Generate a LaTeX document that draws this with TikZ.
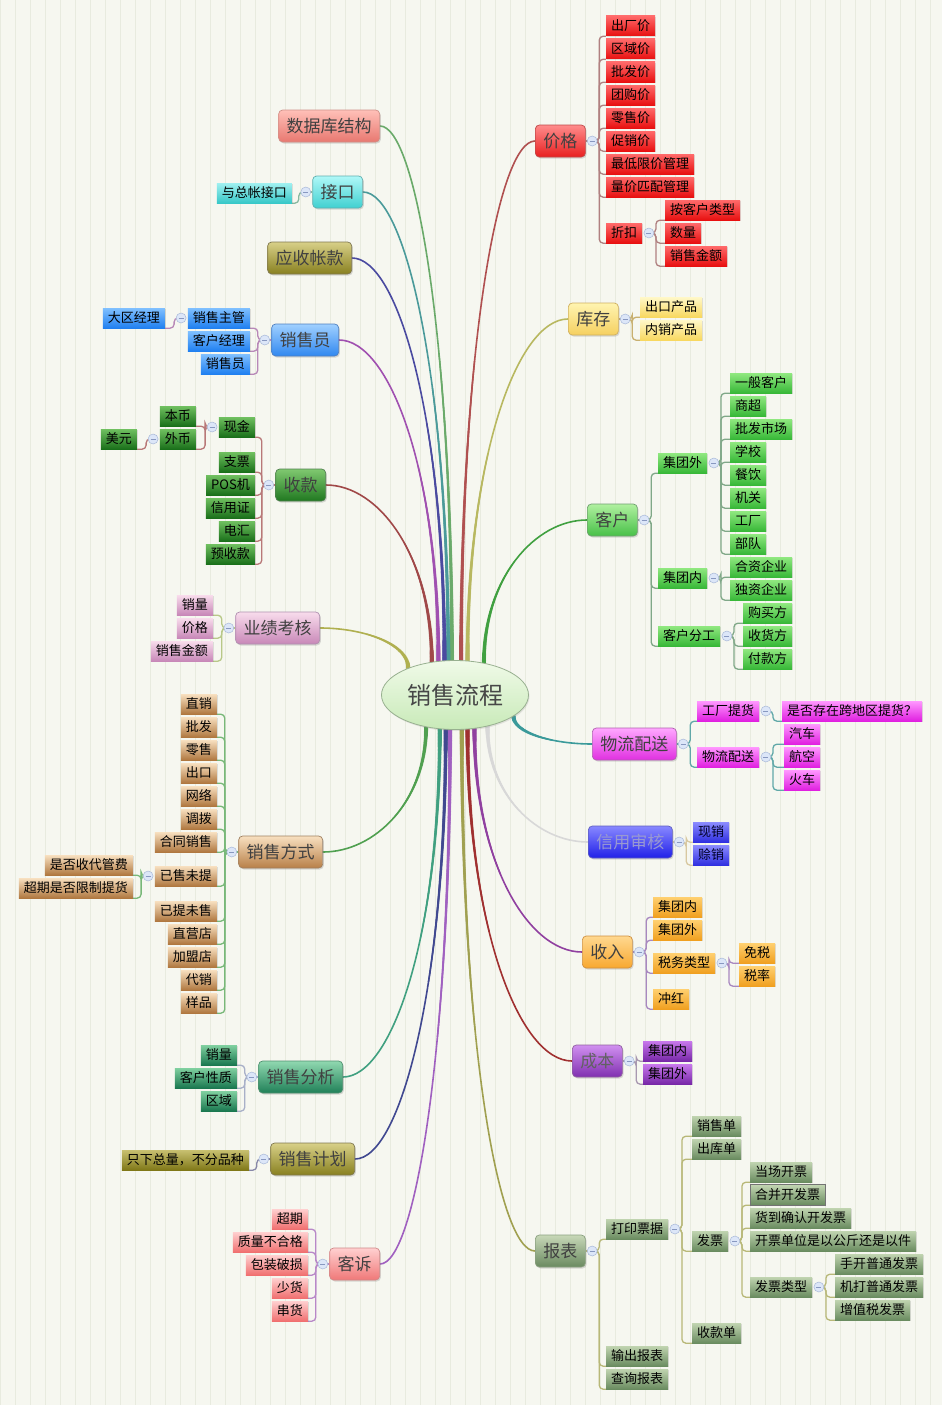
\documentclass[tikz,border=0pt]{standalone}
\usepackage{fontspec}
\setmainfont{Noto Sans CJK SC}
\usetikzlibrary{shapes.geometric,shadows,backgrounds,calc,decorations.markings}
\definecolor{bgc}{HTML}{F6F7F0}
\definecolor{grc}{HTML}{E8EBDF}
\definecolor{cenT}{HTML}{F0FAE8}
\definecolor{cenB}{HTML}{C8EAB8}
\definecolor{cenD}{HTML}{98B090}
\definecolor{collD}{HTML}{A8B8D8}
\definecolor{collF}{HTML}{DCE6F8}
\definecolor{collM}{HTML}{8898C0}
\tikzset{
  lf/.style={rectangle, inner xsep=5pt, inner ysep=0pt, minimum height=20pt, text height=11.2pt, text depth=1.8pt, font=\fontsize{13pt}{13pt}\selectfont, text=black, drop shadow={opacity=0.22, shadow xshift=1pt, shadow yshift=-1pt}},
  tp/.style={rectangle, rounded corners=4pt, line width=0.7pt, inner xsep=8pt, inner ysep=0pt, minimum height=32pt, text height=14.8pt, text depth=2.2pt, font=\fontsize{17pt}{17pt}\selectfont, text=black!75, drop shadow={opacity=0.28, shadow xshift=1.2pt, shadow yshift=-1.5pt}},
  cen/.style={ellipse, draw=cenD, line width=0.8pt, top color=cenT, bottom color=cenB, minimum width=147pt, minimum height=69pt, inner sep=0pt, font=\fontsize{24pt}{24pt}\selectfont, text=black!72, drop shadow={opacity=0.18, shadow xshift=1pt, shadow yshift=-1.5pt}},
  coll/.style={circle, draw=collD, fill=collF, minimum size=10pt, inner sep=0pt, line width=0.5pt, path picture={\draw[collM, line width=0.8pt] ([xshift=-2.5pt]path picture bounding box.center) -- ([xshift=2.5pt]path picture bounding box.center);}},
  conn/.style={line width=1.3pt, rounded corners=4pt},
  mbl/.style={line width=1.6pt, line cap=round},
}
\newcommand\mkscheme[6]{%
  \definecolor{#1TT}{HTML}{#2}\definecolor{#1TB}{HTML}{#3}\definecolor{#1TD}{HTML}{#4}%
  \definecolor{#1LT}{HTML}{#5}\definecolor{#1LB}{HTML}{#6}%
  \tikzset{t#1/.style={tp,top color=#1TT,bottom color=#1TB,draw=#1TD},
           l#1/.style={lf,top color=#1LT,bottom color=#1LB}}}
\mkscheme{Red}{FF8C8C}{E82020}{C04848}{FF6A6A}{E81010}
\mkscheme{Yel}{FFF4B0}{F5D060}{D0B060}{FFF8C8}{F8D860}
\mkscheme{Grn}{B0F0A0}{48C048}{70A070}{90E880}{38B838}
\mkscheme{Mag}{FFA8FF}{E030E0}{B060B0}{FF98FF}{E020E0}
\mkscheme{Blu}{8888FF}{2020E8}{6060C0}{8C8CFF}{3030E0}
\mkscheme{Org}{FFD890}{F8A830}{D09040}{FFD070}{F0A020}
\mkscheme{Pur}{D090F0}{8030B0}{9060A0}{C878EC}{7828A8}
\mkscheme{Gry}{C8D8B8}{6A8A60}{8AA080}{C0D4B0}{6A8C60}
\mkscheme{Sal}{FFC0B8}{E87870}{D09088}{FFC0B8}{E87870}
\mkscheme{Cyn}{B0F8F8}{40D0D0}{60B0B0}{A0F0F0}{38C8C8}
\mkscheme{Olv}{D8D088}{888020}{807850}{C8C070}{807818}
\mkscheme{Sky}{A0D0FF}{3088F0}{5080C0}{80C0FF}{2080F0}
\mkscheme{Dgr}{80C870}{207820}{508050}{70C060}{1A701A}
\mkscheme{Pnk}{F8DCEC}{C888B8}{B090B0}{F8DCEC}{C888B8}
\mkscheme{Tan}{F8E0C0}{B88048}{A08060}{F8E0C0}{B07840}
\mkscheme{Tea}{90D8B0}{208058}{509070}{80D0A0}{1A7850}
\mkscheme{Ros}{FFD0D0}{F07878}{D08888}{FFD0D0}{F07070}
% main branch colours
\definecolor{mSjk}{HTML}{6AAA6A}
\definecolor{mJk}{HTML}{4A9A9A}
\definecolor{mYs}{HTML}{4A4AA0}
\definecolor{mXsy}{HTML}{A050B0}
\definecolor{mSk}{HTML}{A04848}
\definecolor{mYj}{HTML}{B0B050}
\definecolor{mXf}{HTML}{50A050}
\definecolor{mXa}{HTML}{40A080}
\definecolor{mXj}{HTML}{404890}
\definecolor{mKs}{HTML}{A060C0}
\definecolor{mJg}{HTML}{B05050}
\definecolor{mKc}{HTML}{B8B860}
\definecolor{mKh}{HTML}{40A040}
\definecolor{mWl}{HTML}{3A9A9A}
\definecolor{mXy}{HTML}{D8D8D8}
\definecolor{mSr}{HTML}{9040A0}
\definecolor{mCb}{HTML}{A03030}
\definecolor{mBb}{HTML}{A0A050}
% tree connector colours
\definecolor{kRed}{HTML}{B08080}
\definecolor{kYel}{HTML}{C8B070}
\definecolor{kGrn}{HTML}{80A888}
\definecolor{kMag}{HTML}{60A8A8}
\definecolor{kBlu}{HTML}{D8C8A0}
\definecolor{kOrg}{HTML}{A888C0}
\definecolor{kPur}{HTML}{A898B0}
\definecolor{kGry}{HTML}{B8B878}
\definecolor{kCyn}{HTML}{88B8A0}
\definecolor{kSky}{HTML}{B888B8}
\definecolor{kDgr}{HTML}{B87878}
\definecolor{kPnk}{HTML}{B8C888}
\definecolor{kTan}{HTML}{78B878}
\definecolor{kTea}{HTML}{A8B0C8}
\definecolor{kOlv}{HTML}{8888A8}
\definecolor{kRos}{HTML}{B888C8}
\newcommand\rconn[3]{\draw[conn,#1] (#2.center) -- ++(7,0) |- (#3.south west);}
\newcommand\lconn[3]{\draw[conn,#1] (#2.center) -- ++(-7,0) |- (#3.south east);}
\newcommand\mainbr[3]{%
  \draw[mbl,#1] (c.#2) .. controls ($(c.#2)!0.6!(c.#2 |- #3)$) and ($(#3)!0.5!(c.#2 |- #3)$) .. (#3);
  \path[decorate,decoration={markings,mark=between positions 0 and 0.55 step 0.8pt with {%
      \pgfmathsetmacro\myrr{max(0.8,2.1-2.4*\pgfkeysvalueof{/pgf/decoration/mark info/distance from start}/\pgfdecoratedpathlength)}%
      \fill[#1] (0,0) circle[radius=\myrr pt];}}]
    (c.#2) .. controls ($(c.#2)!0.6!(c.#2 |- #3)$) and ($(#3)!0.5!(c.#2 |- #3)$) .. (#3);}
\begin{document}
\begin{tikzpicture}[x=1pt,y=-1pt]
\useasboundingbox (0,0) rectangle (942,1405);
\begin{scope}[on background layer]
\fill[bgc] (0,0) rectangle (942,1405);
\draw[grc,line width=0.5pt,step=15] (0,0) grid (942,1405);
\end{scope}

\node[cen] (c) at (455,695) {销售流程};

% ---------- right side ----------
% 价格
\node[tRed,anchor=west] (jg) at (535,141) {价格};
\node[coll] (jgc) at ([xshift=6.5pt]jg.east) {};
\foreach \t/\y [count=\i] in {出厂价/26,区域价/49,批发价/72,团购价/95,零售价/118,促销价/141,最低限价管理/164,量价匹配管理/187,折扣/233}
  \node[lRed,anchor=west] (jg\i) at (606,\y) {\t};
\node[coll] (zkc) at ([xshift=6.5pt]jg9.east) {};
\foreach \t/\y [count=\i] in {按客户类型/210,数量/233,销售金额/256}
  \node[lRed,anchor=west] (zk\i) at (665,\y) {\t};

% 库存
\node[tYel,anchor=west] (kc) at (568,319) {库存};
\node[coll] (kcc) at ([xshift=6.5pt]kc.east) {};
\foreach \t/\y [count=\i] in {出口产品/307,内销产品/330}
  \node[lYel,anchor=west] (kc\i) at (640,\y) {\t};

% 客户
\node[tGrn,anchor=west] (kh) at (587,520) {客户};
\node[coll] (khc) at ([xshift=6.5pt]kh.east) {};
\node[lGrn,anchor=west] (khw) at (658,463) {集团外};
\node[lGrn,anchor=west] (khn) at (658,578) {集团内};
\node[lGrn,anchor=west] (khf) at (658,636) {客户分工};
\node[coll] (khwc) at ([xshift=6.5pt]khw.east) {};
\node[coll] (khnc) at ([xshift=6.5pt]khn.east) {};
\node[coll] (khfc) at ([xshift=6.5pt]khf.east) {};
\foreach \t/\y [count=\i] in {一般客户/383,商超/406,批发市场/429,学校/452,餐饮/475,机关/498,工厂/521,部队/544}
  \node[lGrn,anchor=west] (khw\i) at (730,\y) {\t};
\foreach \t/\y [count=\i] in {合资企业/567,独资企业/590}
  \node[lGrn,anchor=west] (khn\i) at (730,\y) {\t};
\foreach \t/\y [count=\i] in {购买方/613,收货方/636,付款方/659}
  \node[lGrn,anchor=west] (khf\i) at (743,\y) {\t};

% 物流配送
\node[tMag,anchor=west] (wl) at (592,744) {物流配送};
\node[coll] (wlc) at ([xshift=6.5pt]wl.east) {};
\node[lMag,anchor=west] (wl1) at (697,711) {工厂提货};
\node[lMag,anchor=west] (wl2) at (697,757) {物流配送};
\node[coll] (wl1c) at ([xshift=6.5pt]wl1.east) {};
\node[coll] (wl2c) at ([xshift=6.5pt]wl2.east) {};
\node[lMag,anchor=west] (wl11) at (782,711) {是否存在跨地区提货？};
\foreach \t/\y [count=\i] in {汽车/734,航空/757,火车/780}
  \node[lMag,anchor=west] (wl2\i) at (784,\y) {\t};

% 信用审核
\node[tBlu,anchor=west,text=black!45!blue!40!white] (xy) at (588,842) {信用审核};
\node[coll] (xyc) at ([xshift=6.5pt]xy.east) {};
\foreach \t/\y [count=\i] in {现销/832,赊销/855}
  \node[lBlu,anchor=west,text=black!85!blue] (xy\i) at (693,\y) {\t};

% 收入
\node[tOrg,anchor=west] (sr) at (582,952) {收入};
\node[coll] (src) at ([xshift=6.5pt]sr.east) {};
\foreach \t/\y [count=\i] in {集团内/907,集团外/930,税务类型/963,冲红/999}
  \node[lOrg,anchor=west] (sr\i) at (653,\y) {\t};
\node[coll] (sr3c) at ([xshift=6.5pt]sr3.east) {};
\foreach \t/\y [count=\i] in {免税/953,税率/976}
  \node[lOrg,anchor=west] (sw\i) at (739,\y) {\t};

% 成本
\node[tPur,anchor=west,text=black!62] (cb) at (572,1061) {成本};
\node[coll] (cbc) at ([xshift=6.5pt]cb.east) {};
\foreach \t/\y [count=\i] in {集团内/1051,集团外/1074}
  \node[lPur,anchor=west] (cb\i) at (643,\y) {\t};

% 报表
\node[tGry,anchor=west] (bb) at (535,1251) {报表};
\node[coll] (bbc) at ([xshift=6.5pt]bb.east) {};
\foreach \t/\y [count=\i] in {打印票据/1229,输出报表/1356,查询报表/1379}
  \node[lGry,anchor=west] (bb\i) at (606,\y) {\t};
\node[coll] (dyc) at ([xshift=6.5pt]bb1.east) {};
\foreach \t/\y [count=\i] in {销售单/1126,出库单/1149,发票/1241,收款单/1333}
  \node[lGry,anchor=west] (dy\i) at (692,\y) {\t};
\node[coll] (fpc) at ([xshift=6.5pt]dy3.east) {};
\foreach \t/\y [count=\i] in {当场开票/1172,合并开发票/1195,货到确认开发票/1218,开票单位是以公斤还是以件/1241,发票类型/1287}
  \node[lGry,anchor=west] (fp\i) at (750,\y) {\t};
\draw[black!55,line width=0.9pt] (fp2.south west) rectangle (fp2.north east);
\node[coll] (lxc) at ([xshift=6.5pt]fp5.east) {};
\foreach \t/\y [count=\i] in {手开普通发票/1264,机打普通发票/1287,增值税发票/1310}
  \node[lGry,anchor=west] (lx\i) at (835,\y) {\t};

% ---------- left side ----------
\node[tSal,anchor=east] (sjk) at (380,126) {数据库结构};

\node[tCyn,anchor=east] (jk) at (363,192) {接口};
\node[coll] (jkc) at ([xshift=-6.5pt]jk.west) {};
\node[lCyn,anchor=east] (jk1) at (292,193) {与总帐接口};

\node[tOlv,anchor=east] (ys) at (352,258) {应收帐款};

\node[tSky,anchor=east] (xsy) at (339,340) {销售员};
\node[coll] (xsyc) at ([xshift=-6.5pt]xsy.west) {};
\foreach \t/\y [count=\i] in {销售主管/318,客户经理/341,销售员/364}
  \node[lSky,anchor=east] (xsy\i) at (250,\y) {\t};
\node[coll] (zgc) at ([xshift=-6.5pt]xsy1.west) {};
\node[lSky,anchor=east] (zg1) at (165,318) {大区经理};

\node[tDgr,anchor=east] (sk) at (326,485) {收款};
\node[coll] (skc) at ([xshift=-6.5pt]sk.west) {};
\foreach \t/\y [count=\i] in {现金/427,支票/462,POS机/485,信用证/508,电汇/531,预收款/554}
  \node[lDgr,anchor=east] (sk\i) at (255,\y) {\t};
\node[coll] (xjc) at ([xshift=-6.5pt]sk1.west) {};
\foreach \t/\y [count=\i] in {本币/416,外币/439}
  \node[lDgr,anchor=east] (xj\i) at (196,\y) {\t};
\node[coll] (wbc) at ([xshift=-6.5pt]xj2.west) {};
\node[lDgr,anchor=east] (wb1) at (137,439) {美元};

\node[tPnk,anchor=east] (yj) at (320,628) {业绩考核};
\node[coll] (yjc) at ([xshift=-6.5pt]yj.west) {};
\foreach \t/\y [count=\i] in {销量/605,价格/628,销售金额/651}
  \node[lPnk,anchor=east] (yj\i) at (213,\y) {\t};

\node[tTan,anchor=east] (xf) at (323,852) {销售方式};
\node[coll] (xfc) at ([xshift=-6.5pt]xf.west) {};
\foreach \t/\y [count=\i] in {直销/704,批发/727,零售/750,出口/773,网络/796,调拨/819,合同销售/842,已售未提/876,已提未售/911,直营店/934,加盟店/957,代销/980,样品/1003}
  \node[lTan,anchor=east] (xf\i) at (217,\y) {\t};
\node[coll] (wtc) at ([xshift=-6.5pt]xf8.west) {};
\foreach \t/\y [count=\i] in {是否收代管费/865,超期是否限制提货/888}
  \node[lTan,anchor=east] (wt\i) at (133,\y) {\t};

\node[tTea,anchor=east] (xa) at (343,1077) {销售分析};
\node[coll] (xac) at ([xshift=-6.5pt]xa.west) {};
\foreach \t/\y [count=\i] in {销量/1055,客户性质/1078,区域/1101}
  \node[lTea,anchor=east] (xa\i) at (237,\y) {\t};

\node[tOlv,anchor=east] (xj) at (355,1159) {销售计划};
\node[coll] (xjpc) at ([xshift=-6.5pt]xj.west) {};
\node[lOlv,anchor=east] (xjp1) at (249,1160) {只下总量，不分品种};

\node[tRos,anchor=east] (ks) at (380,1264) {客诉};
\node[coll] (ksc) at ([xshift=-6.5pt]ks.west) {};
\foreach \t/\y [count=\i] in {超期/1219,质量不合格/1242,包装破损/1265,少货/1288,串货/1311}
  \node[lRos,anchor=east] (ks\i) at (308,\y) {\t};

% ---------- connectors ----------
\begin{scope}[on background layer]
% main branches
\mainbr{mSjk}{95}{sjk.east}
\mainbr{mJk}{101}{jk.east}
\mainbr{mYs}{107}{ys.east}
\mainbr{mXsy}{116}{xsy.east}
\mainbr{mSk}{125}{sk.east}
\mainbr{mYj}{150}{yj.east}
\mainbr{mXf}{228}{xf.east}
\mainbr{mXa}{246}{xa.east}
\mainbr{mXj}{255}{xj.east}
\mainbr{mKs}{262}{ks.east}
\mainbr{mJg}{80}{jg.west}
\mainbr{mKc}{70}{kc.west}
\mainbr{mKh}{48}{kh.west}
\mainbr{mWl}{340}{wl.west}
\mainbr{mXy}{316}{xy.west}
\mainbr{mSr}{300}{sr.west}
\mainbr{mCb}{290}{cb.west}
\mainbr{mBb}{281}{bb.west}
% right trees
\draw[conn,kRed] (jg.east) -- (jgc.center);
\foreach \i in {1,...,9} {\rconn{kRed}{jgc}{jg\i}}
\foreach \i in {1,2,3} {\rconn{kRed}{zkc}{zk\i}}
\draw[conn,kYel] (kc.east) -- (kcc.center);
\foreach \i in {1,2} {\rconn{kYel}{kcc}{kc\i}}
\draw[conn,kGrn] (kh.east) -- (khc.center);
\rconn{kGrn}{khc}{khw}\rconn{kGrn}{khc}{khn}\rconn{kGrn}{khc}{khf}
\foreach \i in {1,...,8} {\rconn{kGrn}{khwc}{khw\i}}
\foreach \i in {1,2} {\rconn{kGrn}{khnc}{khn\i}}
\foreach \i in {1,2,3} {\rconn{kGrn}{khfc}{khf\i}}
\draw[conn,kMag] (wl.east) -- (wlc.center);
\rconn{kMag}{wlc}{wl1}\rconn{kMag}{wlc}{wl2}
\rconn{kMag}{wl1c}{wl11}
\foreach \i in {1,2,3} {\rconn{kMag}{wl2c}{wl2\i}}
\draw[conn,kBlu] (xy.east) -- (xyc.center);
\foreach \i in {1,2} {\rconn{kBlu}{xyc}{xy\i}}
\draw[conn,kOrg] (sr.east) -- (src.center);
\foreach \i in {1,...,4} {\rconn{kOrg}{src}{sr\i}}
\foreach \i in {1,2} {\rconn{kOrg}{sr3c}{sw\i}}
\draw[conn,kPur] (cb.east) -- (cbc.center);
\foreach \i in {1,2} {\rconn{kPur}{cbc}{cb\i}}
\draw[conn,kGry] (bb.east) -- (bbc.center);
\foreach \i in {1,2,3} {\rconn{kGry}{bbc}{bb\i}}
\foreach \i in {1,...,4} {\rconn{kGry}{dyc}{dy\i}}
\foreach \i in {1,...,5} {\rconn{kGry}{fpc}{fp\i}}
\foreach \i in {1,2,3} {\rconn{kGry}{lxc}{lx\i}}
% left trees
\draw[conn,kCyn] (jk.west) -- (jkc.center);
\lconn{kCyn}{jkc}{jk1}
\draw[conn,kSky] (xsy.west) -- (xsyc.center);
\foreach \i in {1,2,3} {\lconn{kSky}{xsyc}{xsy\i}}
\lconn{kSky}{zgc}{zg1}
\draw[conn,kDgr] (sk.west) -- (skc.center);
\foreach \i in {1,...,6} {\lconn{kDgr}{skc}{sk\i}}
\foreach \i in {1,2} {\lconn{kDgr}{xjc}{xj\i}}
\lconn{kDgr}{wbc}{wb1}
\draw[conn,kPnk] (yj.west) -- (yjc.center);
\foreach \i in {1,2,3} {\lconn{kPnk}{yjc}{yj\i}}
\draw[conn,kTan] (xf.west) -- (xfc.center);
\foreach \i in {1,...,13} {\lconn{kTan}{xfc}{xf\i}}
\foreach \i in {1,2} {\lconn{kTan}{wtc}{wt\i}}
\draw[conn,kTea] (xa.west) -- (xac.center);
\foreach \i in {1,2,3} {\lconn{kTea}{xac}{xa\i}}
\draw[conn,kOlv] (xj.west) -- (xjpc.center);
\lconn{kOlv}{xjpc}{xjp1}
\draw[conn,kRos] (ks.west) -- (ksc.center);
\foreach \i in {1,...,5} {\lconn{kRos}{ksc}{ks\i}}
\end{scope}
\end{tikzpicture}
\end{document}
